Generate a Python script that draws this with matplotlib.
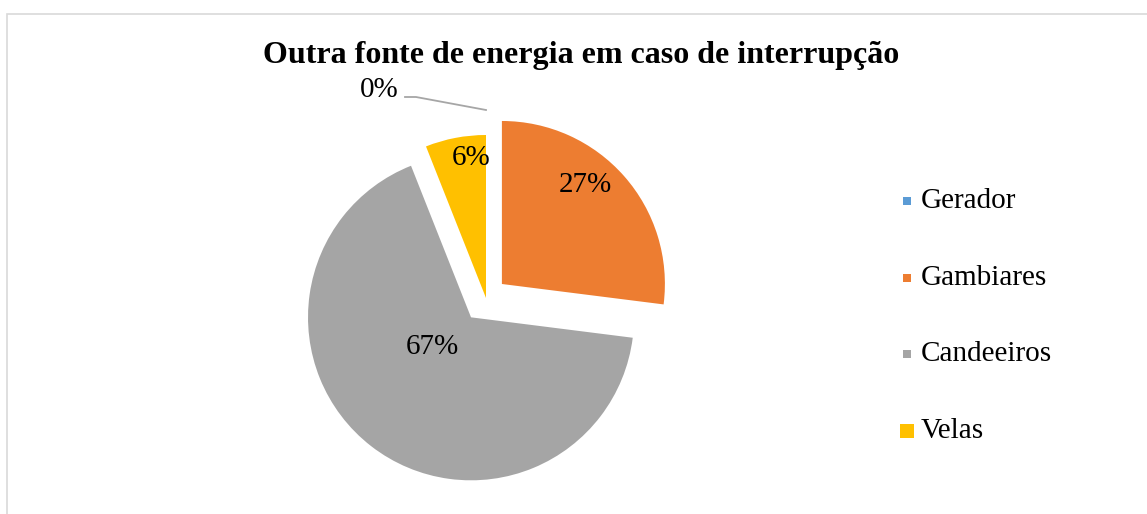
import matplotlib
matplotlib.use('Agg')
import matplotlib.pyplot as plt
from matplotlib.patches import Rectangle

plt.rcParams['font.family'] = ['Liberation Serif', 'DejaVu Serif']

# data
categories = ['Gerador', 'Gambiares', 'Candeeiros', 'Velas']
values = [0, 27, 67, 6]
colors = ['#5B9BD5', '#ED7D31', '#A5A5A5', '#FFC000']
explode_frac = [0.0, 0.13, 0.15, 0.0]

W, H = 1147, 514
fig = plt.figure(figsize=(W / 100, H / 100), dpi=100)
ax = fig.add_axes([0, 0, 1, 1])

# pixel-like coordinates (y up)
cx, cy, R = 486, H - 298, 163

wedges, _ = ax.pie(values, colors=colors, startangle=90, counterclock=False,
                   center=(cx, cy), radius=R,
                   explode=[e * R for e in explode_frac],
                   wedgeprops=dict(linewidth=0))
ax.set_xlim(0, W)
ax.set_ylim(0, H)
ax.set_aspect('auto')
ax.axis('off')

# chart border (only left/top visible)
ax.add_patch(Rectangle((7, -20), W + 40, H - 14 + 20, fill=False,
                       edgecolor='#D9D9D9', linewidth=1.2))

# title
ax.text(581, H - 55, 'Outra fonte de energia em caso de interrupção',
        ha='center', va='center', fontsize=23, fontweight='bold')

# data labels
label_pos = {1: (585, 185), 2: (432, 347), 3: (471, 158)}
for i, (x, y) in label_pos.items():
    ax.text(x, H - y, f'{values[i]}%', ha='center', va='center', fontsize=21)

ax.text(379, H - 90, f'{values[0]}%', ha='center', va='center', fontsize=21)
ax.plot([405, 416, 486], [H - 97, H - 97, H - 110], color='#A6A6A6', lw=1.3)

# legend
for i, name in enumerate(categories):
    y = H - (201 + i * 76.7)
    ms = 8 if i < 3 else 14
    ax.scatter([907], [y], marker='s', s=ms ** 2 * 0.55, color=colors[i],
               linewidths=0)
    ax.text(921, y, name, ha='left', va='center', fontsize=21)

fig.savefig('out.png', dpi=100, facecolor='white')
